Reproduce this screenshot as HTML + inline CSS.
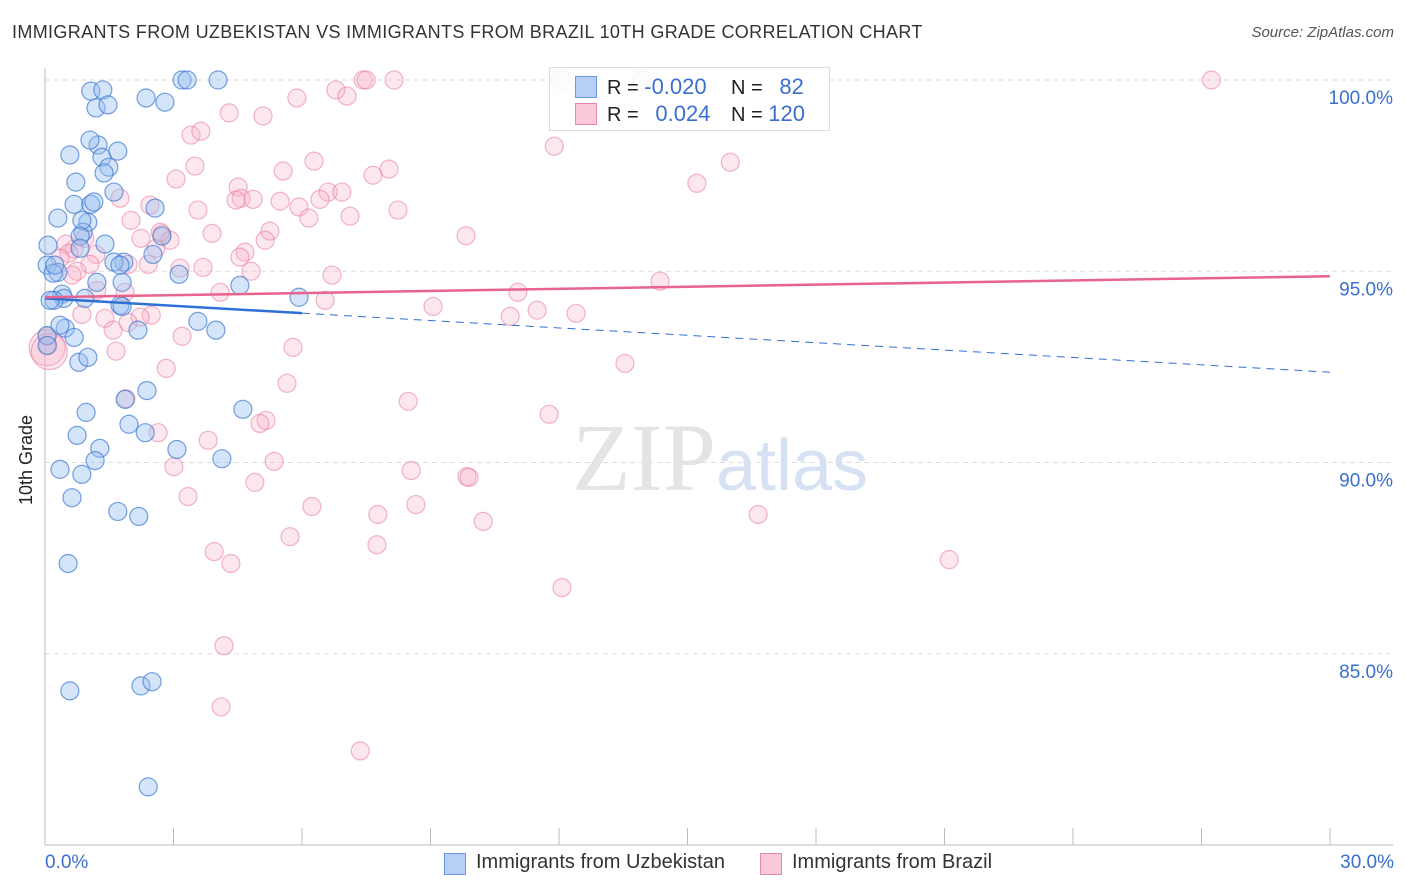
<!DOCTYPE html>
<html><head><meta charset="utf-8"><style>
body{margin:0;background:#fff;font-family:"Liberation Sans",sans-serif;}
#c{position:relative;width:1406px;height:892px;overflow:hidden;}
.t{position:absolute;white-space:nowrap;}
</style></head><body><div id="c">
<div class="t" style="left:12px;top:22px;font-size:18px;color:#333;letter-spacing:0.35px">IMMIGRANTS FROM UZBEKISTAN VS IMMIGRANTS FROM BRAZIL 10TH GRADE CORRELATION CHART</div>
<div class="t" style="right:12px;top:24px;font-size:15px;color:#555;font-style:italic">Source: ZipAtlas.com</div>
<div class="t" style="font-size:18px;color:#222;transform:rotate(-90deg);transform-origin:0 0;top:505px;left:16px">10th Grade</div>
<svg id="s" width="1406" height="892" style="position:absolute;left:0;top:0"></svg>
</div>
<script>
const yTicks=[100,95,90,85];
const yTickLabels=["100.0%","95.0%","90.0%","85.0%"];
const xTicks=[0,3,6,9,12,15,18,21,24,27,30];
const blueX=[3.20,3.32,4.04,1.07,1.35,1.19,1.47,2.36,2.80,0.58,1.24,1.33,1.70,1.49,1.38,1.05,0.72,1.61,0.30,0.68,1.07,1.14,1.00,0.89,0.86,0.82,1.40,0.82,2.57,2.73,2.52,1.84,1.61,0.07,0.05,0.30,0.19,0.40,0.44,0.93,1.21,1.80,1.75,3.13,4.55,5.93,0.21,0.47,0.68,0.79,1.00,2.17,3.57,3.99,0.05,0.05,2.38,1.87,4.62,0.96,1.96,2.34,0.75,3.08,1.28,1.17,4.13,0.35,0.86,0.63,1.70,2.19,0.54,0.58,2.24,2.50,2.41,1.80,0.35,0.12,1.75,0.23];
const blueY=[100,100,100,99.71,99.74,99.27,99.35,99.53,99.42,98.04,98.30,97.98,98.14,97.72,97.57,98.43,97.33,97.07,96.39,96.75,96.75,96.81,96.28,96.02,96.33,95.92,95.71,95.60,96.65,95.92,95.44,95.24,95.24,95.68,95.16,94.97,94.95,94.40,94.29,94.29,94.71,94.71,94.11,94.92,94.63,94.32,94.24,93.51,93.27,92.62,92.75,93.46,93.69,93.46,93.32,93.06,91.88,91.65,91.39,91.31,91.00,90.78,90.71,90.34,90.37,90.05,90.10,89.82,89.69,89.08,88.72,88.59,87.36,84.03,84.16,84.27,81.52,94.08,93.59,94.24,95.16,95.16];
const pinkX=[27.23,12.03,13.94,7.43,7.50,8.15,6.79,7.05,5.88,4.30,5.09,3.41,3.64,11.89,16.00,6.28,5.56,3.50,15.22,7.66,8.03,4.51,4.58,4.86,5.49,6.61,6.93,3.06,4.46,5.93,6.16,6.42,7.12,8.24,3.57,1.75,2.45,2.01,9.83,3.90,5.25,2.24,2.73,2.92,2.59,4.67,4.55,1.19,0.68,0.49,0.56,1.05,1.94,2.41,3.69,4.81,6.70,3.15,0.75,0.63,14.36,11.04,6.54,4.09,1.87,1.21,9.06,11.49,10.86,12.40,0.86,1.40,2.48,2.22,1.94,1.59,3.20,5.79,1.66,0.07,0.05,2.83,13.54,5.65,1.89,8.48,11.77,5.16,5.02,2.64,3.81,5.35,8.55,3.01,9.85,9.90,3.34,4.90,6.23,7.77,8.66,10.23,16.65,5.72,7.75,3.95,4.34,21.11,12.07,4.18,4.11,7.36,2.69,0.93,0.35,5.14,0.05,0.1];
const pinkY=[100,100,100,100,100,100,99.74,99.58,99.53,99.14,99.06,98.56,98.66,98.27,97.85,97.88,97.62,97.75,97.30,97.51,97.67,97.20,96.91,96.88,96.83,97.07,97.07,97.41,96.86,96.68,96.39,96.88,96.44,96.60,96.60,96.91,96.73,96.33,95.93,95.99,96.05,95.86,95.97,95.81,95.60,95.50,95.37,95.44,95.58,95.71,95.47,95.18,95.18,95.18,95.10,95.00,94.90,95.08,95.00,94.90,94.74,94.45,94.24,94.45,94.45,94.50,94.08,93.98,93.82,93.90,93.87,93.77,93.85,93.80,93.66,93.46,93.30,93.01,92.91,93.06,93.30,92.46,92.59,92.07,91.67,91.60,91.26,91.10,91.02,90.78,90.58,90.03,89.79,89.89,89.63,89.61,89.11,89.48,88.85,88.64,88.90,88.46,88.64,88.06,87.85,87.67,87.36,87.46,86.73,85.21,83.61,82.46,96.02,95.86,95.34,95.81,93.0,92.9];
const blueTrend=[94.29,92.36];
const pinkTrend=[94.32,94.87];
const X0=45,X1=1330,Y0=80,Y1=845;
function sx(v){return X0+(v-0)/30*(X1-X0);}
function sy(v){return Y0+(100-v)/20*(Y1-Y0);}
const s=document.getElementById('s');const NS='http://www.w3.org/2000/svg';
function mk(t,a,p){const e=document.createElementNS(NS,t);for(const k in a)e.setAttribute(k,a[k]);(p||s).appendChild(e);return e;}
yTicks.forEach((v,i)=>{const l=mk('line',{x1:X0,x2:1393,y1:sy(v),y2:sy(v),stroke:'#ddd','stroke-dasharray':'5,4'});


const t=mk('text',{x:1393,y:sy(v)+24,'text-anchor':'end','font-size':19,fill:'#3a6fd0','font-family':'Liberation Sans'});t.textContent=yTickLabels[i];

});
const ax=mk('line',{x1:X0,x2:X0,y1:68,y2:Y1,stroke:'#bbb'});


const bx=mk('line',{x1:X0,x2:1393,y1:Y1,y2:Y1,stroke:'#bbb'});


xTicks.forEach(v=>{const l=mk('line',{x1:sx(v),x2:sx(v),y1:828,y2:Y1,stroke:'#bbb'});

});
const wm=mk('text',{x:720,y:490,'text-anchor':'middle','font-size':96,'font-family':'Liberation Serif',fill:'#e4e4e4'});
wm.innerHTML='ZIP<tspan fill="#d6e2f3" font-family="Liberation Sans" font-size="72">atlas</tspan>';


pinkX.forEach((v,i)=>{const c=mk('circle',{cx:sx(v),cy:sy(pinkY[i]),r:i>=pinkX.length-2?18:9,fill:'rgba(248,175,198,0.3)',stroke:'rgba(230,120,155,0.55)','stroke-width':1.2});

});
blueX.forEach((v,i)=>{const c=mk('circle',{cx:sx(v),cy:sy(blueY[i]),r:9,fill:'rgba(150,190,240,0.4)',stroke:'rgba(60,120,210,0.7)','stroke-width':1.2});

});
const bm=blueTrend[0]+(blueTrend[1]-blueTrend[0])*6/30;
const bl=mk('line',{x1:sx(0),y1:sy(blueTrend[0]),x2:sx(6),y2:sy(bm),stroke:'#2f6fd6','stroke-width':2.5});


const bd=mk('line',{x1:sx(6),y1:sy(bm),x2:sx(30),y2:sy(blueTrend[1]),stroke:'#2f6fd6','stroke-width':1,'stroke-dasharray':'8,6'});


const pl=mk('line',{x1:sx(0),y1:sy(pinkTrend[0]),x2:sx(30),y2:sy(pinkTrend[1]),stroke:'#e8638e','stroke-width':2.5});


</script>
<div class="t" style="left:549px;top:67px;width:279px;height:62px;border:1px solid #ddd;background:rgba(255,255,255,0.85);font-size:21px">
<div class="t" style="left:25px;top:8px;width:20px;height:20px;background:#b6d0f5;border:1px solid #6a9ae0"></div>
<div class="t" style="left:57px;top:6px;color:#222;font-size:20px">R = <span style="color:#3a6fd0;font-size:22px">-0.020</span></div>
<div class="t" style="left:181px;top:6px;color:#222;font-size:20px">N = &nbsp;&nbsp;<span style="color:#3a6fd0;font-size:22px">82</span></div>
<div class="t" style="left:25px;top:35px;width:20px;height:20px;background:#fbcad9;border:1px solid #e887a8"></div>
<div class="t" style="left:57px;top:33px;color:#222;font-size:20px">R = &nbsp;&nbsp;<span style="color:#3a6fd0;font-size:22px">0.024</span></div>
<div class="t" style="left:181px;top:33px;color:#222;font-size:20px">N = <span style="color:#3a6fd0;font-size:22px">120</span></div>
</div>
<div class="t" style="left:45px;top:852px;font-size:19px;color:#3a6fd0">0.0%</div>
<div class="t" style="right:12px;top:852px;font-size:19px;color:#3a6fd0">30.0%</div>
<div class="t" style="left:444px;top:853px;width:20px;height:20px;background:#b6d0f5;border:1px solid #6a9ae0"></div>
<div class="t" style="left:476px;top:851px;font-size:20px;color:#333">Immigrants from Uzbekistan</div>
<div class="t" style="left:760px;top:853px;width:20px;height:20px;background:#fbcad9;border:1px solid #e887a8"></div>
<div class="t" style="left:792px;top:851px;font-size:20px;color:#333">Immigrants from Brazil</div>
</body></html>
